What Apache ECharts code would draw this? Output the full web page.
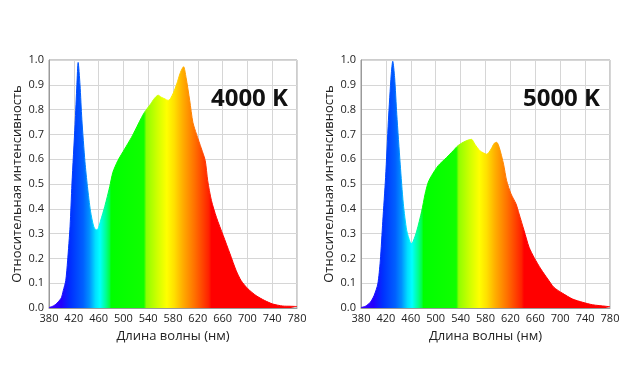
<!DOCTYPE html>
<html><head><meta charset="utf-8">
<script src="https://cdn.jsdelivr.net/npm/echarts@6/dist/echarts.min.js"></script>
<style>html,body{margin:0;padding:0;background:#fff}#c{width:630px;height:390px}</style>
</head><body><div id="c"></div>
<script>
// Wavelength ticks
const xTicks = [380,420,460,500,540,580,620,660,700,740,780];
const yTicks = [0,0.1,0.2,0.3,0.4,0.5,0.6,0.7,0.8,0.9,1.0];
const titles = ['4000 K','5000 K'];
const xName = 'Длина волны (нм)';
const yName = 'Относительная интенсивность';

// 4000 K spectrum
const wl4000 = [380,385,390,395,400,403,407,410,414,417,422,425,427,430,433,438,442,447,452,456,459,463,470,478,483,491,502,513,520,528,534,544,550,556,561,567,572,576,581,586,592,597,601,607,612,618,626,632,636,642,650,661,672,682,690,701,714,728,741,757,770,780];
const val4000 = [0.002,0.006,0.013,0.025,0.042,0.07,0.11,0.19,0.33,0.5,0.74,0.9,0.99,0.9,0.76,0.59,0.49,0.39,0.33,0.315,0.318,0.35,0.41,0.49,0.547,0.594,0.641,0.688,0.722,0.762,0.789,0.823,0.845,0.858,0.85,0.843,0.837,0.845,0.87,0.903,0.95,0.973,0.93,0.836,0.749,0.70,0.641,0.594,0.513,0.433,0.366,0.292,0.218,0.15,0.11,0.077,0.05,0.03,0.016,0.008,0.007,0.006];

// 5000 K spectrum
const wl5000 = [380,387,395,401,407,411,415,419.5,424,428.5,431,434,437.5,443,448,453.5,459,461,464,469.5,477.5,483,488,493.5,504,517.5,528,536,544,552,557.5,563,571,577,582,589,594,598,602,609,614,621,629,634,642,650,658,669,680,690,704,720,736,752,773,780];
const val5000 = [0.002,0.007,0.023,0.05,0.097,0.19,0.35,0.527,0.755,0.94,0.995,0.93,0.78,0.58,0.42,0.312,0.265,0.26,0.27,0.31,0.39,0.46,0.507,0.534,0.574,0.607,0.634,0.655,0.668,0.677,0.68,0.66,0.634,0.625,0.62,0.641,0.664,0.668,0.648,0.58,0.513,0.46,0.42,0.379,0.312,0.245,0.204,0.157,0.117,0.083,0.059,0.036,0.023,0.013,0.007,0.005];

// spectrum colour stops (wavelength, colour)
const specWl = [380,400,415,435,445,455,462,472,478,480,533,537,555,570,582,595,615,630,638,642,780];
const specCol = ['#3a00ff','#2200ff','#0030ff','#0060ff','#0090ff','#00e0ff','#00ffff','#00ff90','#00ff40','#00ff00','#10ff00','#90ff00','#d0ff00','#ffff00','#ffe000','#ffb000','#ff7000','#ff3c00','#ff2000','#ff0000','#ff0000'];

const FONT = 'Open Sans';
function makeGrad(){return new echarts.graphic.LinearGradient(0,0,1,0,
  specWl.map((w,i)=>({offset:(w-380)/400, color:specCol[i]})));}

const grids = [
  {left:49, top:60, width:248, height:248},
  {left:361, top:60, width:249, height:248}
];
const grid = grids.map(g=>Object.assign({show:true, borderColor:'#9a9a9a', borderWidth:1, backgroundColor:'transparent'}, g));

function xAx(i){return {type:'value', gridIndex:i, min:380, max:780, interval:40,
  name:xName, nameLocation:'middle', nameGap:22,
  nameTextStyle:{fontFamily:FONT, fontSize:13, color:'#222'},
  axisLine:{show:true, lineStyle:{color:'#9a9a9a'}}, axisTick:{show:false},
  axisLabel:{fontFamily:FONT, fontSize:11, color:'#222', margin:5, formatter:v=>String(v)},
  splitLine:{show:true, lineStyle:{color:'#d6d6d6', width:1}}};}
function yAx(i){return {type:'value', gridIndex:i, min:0, max:1, interval:0.1,
  name:yName, nameLocation:'middle', nameGap:25,
  nameTextStyle:{fontFamily:FONT, fontSize:13, color:'#222'},
  axisLine:{show:true, lineStyle:{color:'#9a9a9a'}}, axisTick:{show:false},
  axisLabel:{fontFamily:FONT, fontSize:11, color:'#222', margin:5, formatter:v=>v.toFixed(1)},
  splitLine:{show:true, lineStyle:{color:'#d6d6d6', width:1}}};}

function ser(i, wl, val){return {type:'line', xAxisIndex:i, yAxisIndex:i,
  data: wl.map((w,k)=>[w,val[k]]), smooth:0.25, showSymbol:false, symbol:'none',
  lineStyle:{width:1, color:makeGrad()}, areaStyle:{color:makeGrad(), opacity:1}, z:2};}

const chart = echarts.init(document.getElementById('c'), null, {renderer:'canvas'});
chart.setOption({
  animation:false,
  title: titles.map((t,i)=>({text:t, right: i===0 ? 342 : 30, top:87, padding:0,
    textStyle:{fontFamily:FONT, fontWeight:'bold', fontSize:24, color:'#111'}})),
  grid: grid,
  xAxis:[xAx(0), xAx(1)],
  yAxis:[yAx(0), yAx(1)],
  series:[ser(0, wl4000, val4000), ser(1, wl5000, val5000)]
});
</script></body></html>
